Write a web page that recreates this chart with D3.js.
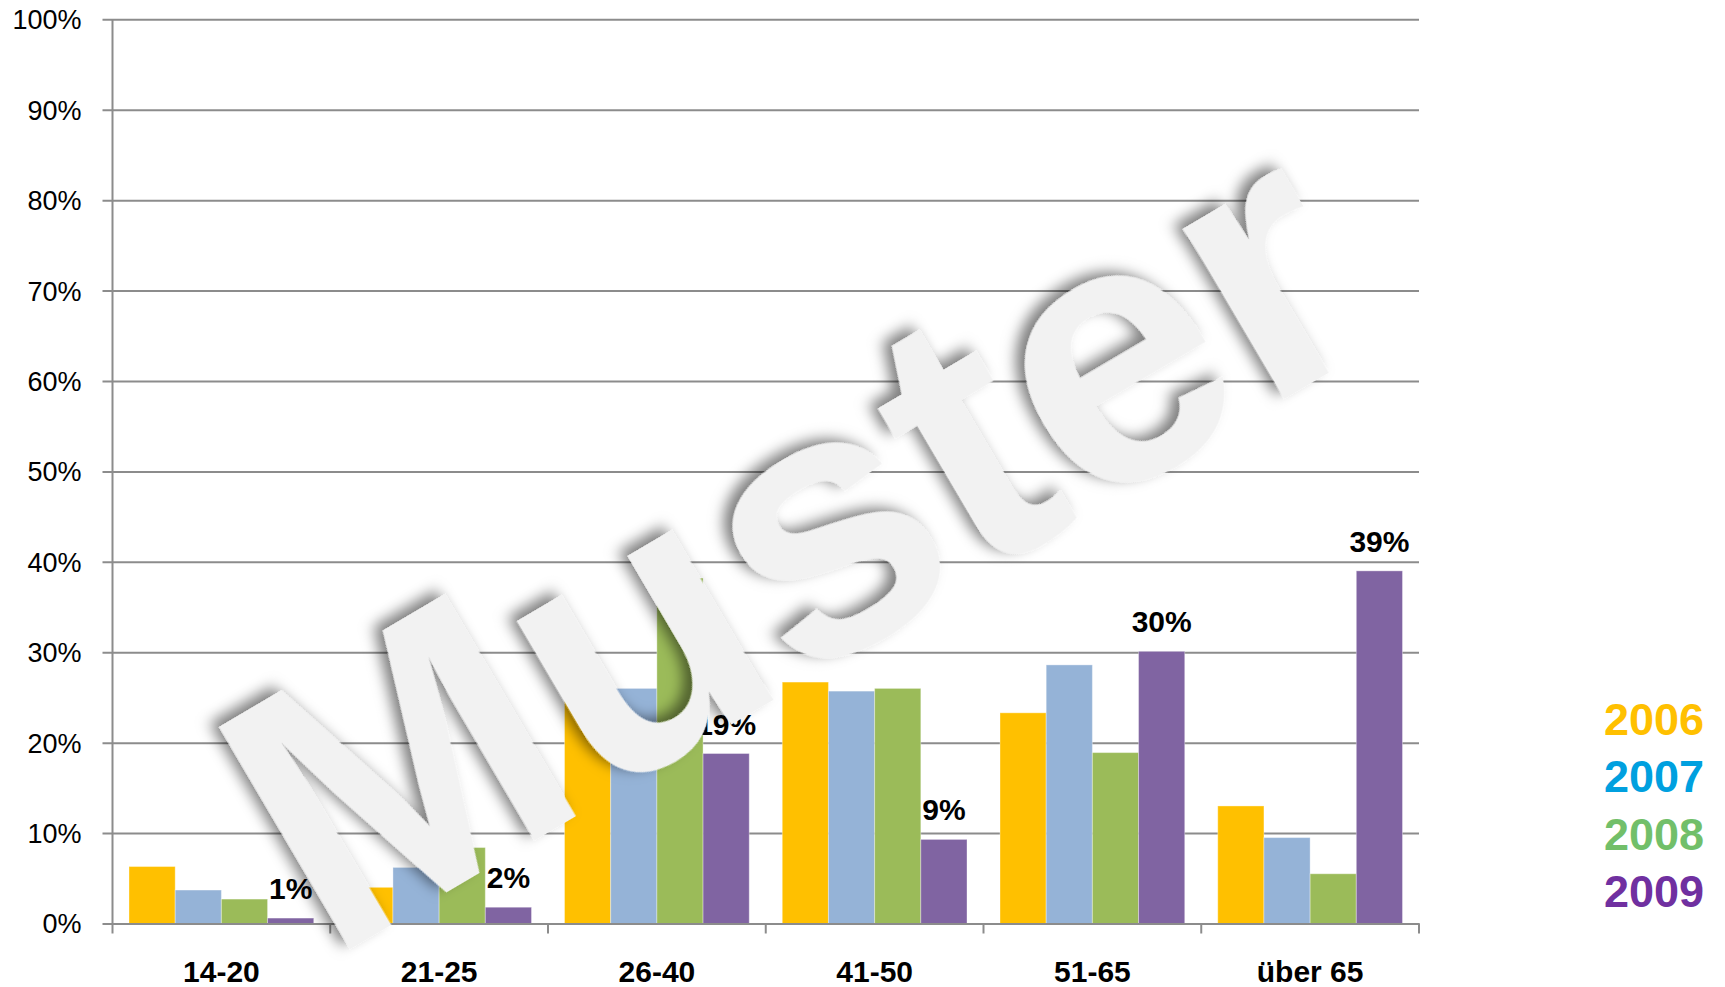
<!DOCTYPE html>
<html>
<head>
<meta charset="utf-8">
<script src="https://cdn.jsdelivr.net/npm/d3@7"></script>
<style>
  html, body { margin: 0; padding: 0; background: #fff; }
  svg { display: block; font-family: "Liberation Sans", Arial, sans-serif; }
</style>
</head>
<body>
<div id="chart"></div>
<script>
var categories = ['14-20', '21-25', '26-40', '41-50', '51-65', 'über 65'];
var years = ['2006', '2007', '2008', '2009'];
var values2006 = [6.3, 4.0, 26.5, 26.7, 23.3, 13.0];
var values2007 = [3.7, 6.2, 26.0, 25.7, 28.6, 9.5];
var values2008 = [2.7, 8.4, 38.2, 26.0, 18.9, 5.5];
var values2009 = [0.6, 1.8, 18.8, 9.3, 30.1, 39.0];
var yTicks = [0, 10, 20, 30, 40, 50, 60, 70, 80, 90, 100];
var watermark = 'Muster';

var series = [values2006, values2007, values2008, values2009];
var barColors = ['#FFC000', '#95B3D7', '#9BBB59', '#8064A2'];
var legendColors = ['#FFC000', '#00A0DF', '#72BF6A', '#7030A0'];

var dims = {
  width: 1725,
  height: 987,
  left: 112.5,
  right: 1419,
  top: 19.3,
  bottom: 923.5
};

var svg = d3.select('#chart').append('svg')
  .attr('width', dims.width)
  .attr('height', dims.height);

var defs = svg.append('defs');
var shadow = defs.append('filter')
  .attr('id', 'wmShadow')
  .attr('x', '-20%').attr('y', '-20%')
  .attr('width', '140%').attr('height', '140%');
shadow.append('feDropShadow')
  .attr('dx', -6)
  .attr('dy', -8)
  .attr('stdDeviation', 7)
  .attr('flood-color', '#000')
  .attr('flood-opacity', 0.5);

var x0 = d3.scaleBand()
  .domain(categories)
  .range([dims.left, dims.right])
  .padding(0);

var pad = x0.bandwidth() * 0.0758;
var x1 = d3.scaleBand()
  .domain(years)
  .range([pad, x0.bandwidth() - pad])
  .padding(0);

var y = d3.scaleLinear()
  .domain([0, 100])
  .range([dims.bottom, dims.top]);

// gridlines + y labels
var yAxis = d3.axisLeft(y)
  .tickValues(yTicks)
  .tickSize(dims.right - dims.left + 10)
  .tickSizeOuter(0)
  .tickPadding(21)
  .tickFormat(function(d) { return d + '%'; });

var gy = svg.append('g')
  .attr('transform', 'translate(' + dims.right + ',0)')
  .call(yAxis);
gy.select('.domain').remove();
gy.selectAll('.tick line')
  .attr('stroke', '#8C8C8C')
  .attr('stroke-width', 2);
gy.selectAll('.tick text')
  .attr('x', -(dims.right - dims.left + 10) - 21)
  .attr('dy', '0.35em')
  .attr('fill', '#000')
  .attr('font-size', 27)
  .attr('font-family', '"Liberation Sans", Arial, sans-serif');

// vertical axis line
svg.append('line')
  .attr('x1', dims.left).attr('x2', dims.left)
  .attr('y1', dims.top).attr('y2', dims.bottom)
  .attr('stroke', '#8C8C8C')
  .attr('stroke-width', 2);

// bars
var groups = svg.append('g').selectAll('g')
  .data(categories)
  .enter().append('g')
  .attr('transform', function(d) { return 'translate(' + x0(d) + ',0)'; });

groups.selectAll('rect')
  .data(function(d, i) {
    return years.map(function(yr, j) { return { year: yr, idx: j, value: series[j][i] }; });
  })
  .enter().append('rect')
  .attr('x', function(d) { return x1(d.year); })
  .attr('y', function(d) { return y(d.value); })
  .attr('width', x1.bandwidth())
  .attr('height', function(d) { return dims.bottom - y(d.value); })
  .attr('fill', function(d) { return barColors[d.idx]; })
  .attr('stroke', 'rgba(255,255,255,0.35)')
  .attr('stroke-width', 1);

// data labels for 2009
groups.append('text')
  .attr('x', x1('2009') + x1.bandwidth() / 2)
  .attr('y', function(d, i) { return y(values2009[i]) - 19; })
  .attr('text-anchor', 'middle')
  .attr('font-size', 30)
  .attr('font-weight', 'bold')
  .attr('fill', '#000')
  .text(function(d, i) { return Math.round(values2009[i]) + '%'; });

// x axis
var xAxis = d3.axisBottom(x0).tickSize(0).tickPadding(0);
var gx = svg.append('g')
  .attr('transform', 'translate(0,' + dims.bottom + ')')
  .call(xAxis);
gx.select('.domain')
  .attr('stroke', '#8C8C8C')
  .attr('stroke-width', 2);
gx.selectAll('.tick text')
  .attr('y', 58)
  .attr('dy', 0)
  .attr('font-size', 30)
  .attr('font-weight', 'bold')
  .attr('fill', '#000')
  .attr('font-family', '"Liberation Sans", Arial, sans-serif');

// category boundary ticks
var bounds = categories.map(function(c) { return x0(c); }).concat([dims.right]);
svg.append('g').selectAll('line')
  .data(bounds)
  .enter().append('line')
  .attr('x1', function(d) { return d; })
  .attr('x2', function(d) { return d; })
  .attr('y1', dims.bottom)
  .attr('y2', dims.bottom + 10)
  .attr('stroke', '#8C8C8C')
  .attr('stroke-width', 2);

// watermark
svg.append('text')
  .attr('transform', 'translate(858,650) rotate(-30.5)')
  .attr('text-anchor', 'middle')
  .attr('font-size', 375)
  .attr('font-weight', 'bold')
  .attr('fill', '#F2F2F2')
  .attr('filter', 'url(#wmShadow)')
  .text(watermark);

// legend
var legendY = d3.scalePoint()
  .domain(years)
  .range([735, 907]);

svg.append('g').selectAll('text')
  .data(years)
  .enter().append('text')
  .attr('x', 1704)
  .attr('y', function(d) { return legendY(d); })
  .attr('text-anchor', 'end')
  .attr('font-size', 45)
  .attr('font-weight', 'bold')
  .attr('fill', function(d, i) { return legendColors[i]; })
  .text(function(d) { return d; });
</script>
</body>
</html>
